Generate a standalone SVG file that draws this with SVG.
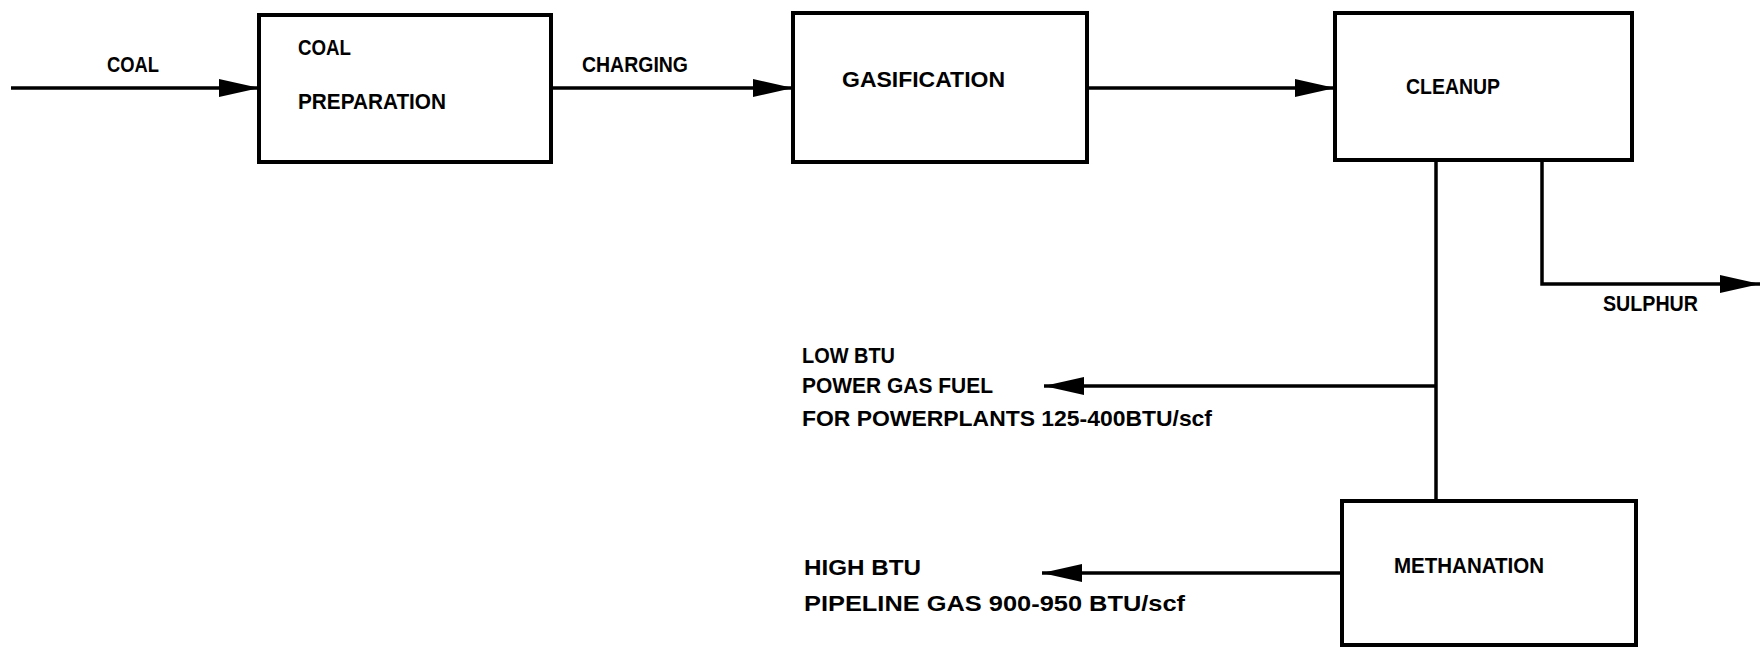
<svg xmlns="http://www.w3.org/2000/svg" width="1761" height="648" viewBox="0 0 1761 648">
<style>
.box{fill:none;stroke:#000;stroke-width:4}
.ln{fill:none;stroke:#000;stroke-width:3.5}
text{font-family:"Liberation Sans",Arial,sans-serif;font-weight:bold;font-size:22px;fill:#000}
</style>
<defs>
<marker id="ah" markerUnits="userSpaceOnUse" markerWidth="44" markerHeight="22" refX="40" refY="10" orient="auto">
<path d="M0,1 L40,10 L0,19 z" fill="#000"/>
</marker>
</defs>
<rect width="1761" height="648" fill="#fff"/>
<g id="connectors">
<line class="ln" x1="11" y1="88" x2="259" y2="88" marker-end="url(#ah)"/>
<line class="ln" x1="551" y1="88" x2="793" y2="88" marker-end="url(#ah)"/>
<line class="ln" x1="1087" y1="88" x2="1335" y2="88" marker-end="url(#ah)"/>
<line class="ln" x1="1436" y1="160" x2="1436" y2="501"/>
<polyline class="ln" points="1542,160 1542,284 1760,284" marker-end="url(#ah)"/>
<line class="ln" x1="1436" y1="386" x2="1044" y2="386" marker-end="url(#ah)"/>
<line class="ln" x1="1342" y1="573" x2="1042" y2="573" marker-end="url(#ah)"/>
<text x="107" y="72" textLength="52" lengthAdjust="spacingAndGlyphs">COAL</text>
<text x="582" y="72" textLength="106" lengthAdjust="spacingAndGlyphs">CHARGING</text>
<text x="1603" y="311" textLength="95" lengthAdjust="spacingAndGlyphs">SULPHUR</text>
<text x="802" y="363" textLength="93" lengthAdjust="spacingAndGlyphs">LOW BTU</text>
<text x="802" y="393" textLength="191" lengthAdjust="spacingAndGlyphs">POWER GAS FUEL</text>
<text x="802" y="426" textLength="410" lengthAdjust="spacingAndGlyphs">FOR POWERPLANTS 125-400BTU/scf</text>
<text x="804" y="575" textLength="117" lengthAdjust="spacingAndGlyphs">HIGH BTU</text>
<text x="804" y="611" textLength="381" lengthAdjust="spacingAndGlyphs">PIPELINE GAS 900-950 BTU/scf</text>
</g>
<g id="coal-preparation">
<rect class="box" x="259" y="15" width="292" height="147"/>
<text x="298" y="55" textLength="53" lengthAdjust="spacingAndGlyphs">COAL</text>
<text x="298" y="109" textLength="148" lengthAdjust="spacingAndGlyphs">PREPARATION</text>
</g>
<g id="gasification">
<rect class="box" x="793" y="13" width="294" height="149"/>
<text x="842" y="87" textLength="163" lengthAdjust="spacingAndGlyphs">GASIFICATION</text>
</g>
<g id="cleanup">
<rect class="box" x="1335" y="13" width="297" height="147"/>
<text x="1406" y="94" textLength="94" lengthAdjust="spacingAndGlyphs">CLEANUP</text>
</g>
<g id="methanation">
<rect class="box" x="1342" y="501" width="294" height="144"/>
<text x="1394" y="573" textLength="150" lengthAdjust="spacingAndGlyphs">METHANATION</text>
</g>
</svg>
